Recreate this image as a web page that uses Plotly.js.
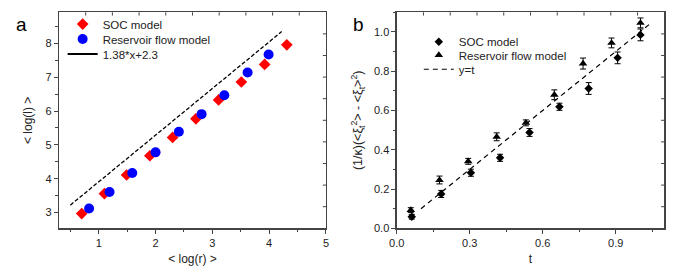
<!DOCTYPE html>
<html>
<head>
<meta charset="utf-8">
<script src="https://cdn.plot.ly/plotly-3.0.1.min.js"></script>
<style>
html,body{margin:0;padding:0;background:#fff;}
#chart{width:681px;height:277px;}
</style>
</head>
<body>
<div id="chart"></div>
<script>
// Panel a data
const socLogR = [0.70, 1.10, 1.49, 1.90, 2.30, 2.71, 3.11, 3.51, 3.92, 4.31];
const socLogL = [2.97, 3.56, 4.11, 4.68, 5.22, 5.77, 6.33, 6.86, 7.38, 7.96];
const resLogR = [0.83, 1.19, 1.59, 2.00, 2.41, 2.81, 3.21, 3.62, 3.99];
const resLogL = [3.12, 3.61, 4.17, 4.78, 5.39, 5.91, 6.47, 7.14, 7.67];
const fitX = [0.50, 4.22];
const fitY = [3.22, 8.35];
const fitName = '1.38*x+2.3';

// Panel b data
const socT = [0.062, 0.183, 0.305, 0.425, 0.546, 0.669, 0.789, 0.908, 1.002];
const socVar = [0.059, 0.175, 0.283, 0.359, 0.488, 0.619, 0.712, 0.868, 0.985];
const socErr = [0.012, 0.018, 0.018, 0.018, 0.020, 0.018, 0.030, 0.030, 0.030];
const resT = [0.058, 0.176, 0.294, 0.411, 0.531, 0.648, 0.766, 0.883, 1.002];
const resVar = [0.093, 0.246, 0.341, 0.466, 0.537, 0.680, 0.839, 0.944, 1.046];
const resErr = [0.012, 0.020, 0.015, 0.020, 0.015, 0.025, 0.028, 0.025, 0.025];
const lineT = [0.10, 1.04];

const FONT = 'Liberation Sans, Arial, sans-serif';
const axisColor = '#444';
const LEG_FONT = {family: FONT, size: 11.5, color: '#222'};

const traces = [
  // panel a
  {x: socLogR, y: socLogL, type: 'scatter', mode: 'markers', name: 'SOC model',
   marker: {symbol: 'diamond', size: 9, color: '#ff0000'}, xaxis: 'x', yaxis: 'y', legend: 'legend'},
  {x: resLogR, y: resLogL, type: 'scatter', mode: 'markers', name: 'Reservoir flow model',
   marker: {symbol: 'circle', size: 10, color: '#0000ff'}, xaxis: 'x', yaxis: 'y', legend: 'legend2'},
  {x: [null], y: [null], type: 'scatter', mode: 'lines', name: fitName,
   line: {color: '#000', width: 2}, xaxis: 'x', yaxis: 'y', legend: 'legend3'},
  {x: fitX, y: fitY, type: 'scatter', mode: 'lines', showlegend: false,
   line: {color: '#000', width: 1.3, dash: '4px,2px'}, xaxis: 'x', yaxis: 'y'},
  // panel b
  {x: socT, y: socVar, type: 'scatter', mode: 'markers', name: 'SOC model',
   marker: {symbol: 'diamond', size: 6.5, color: '#000'},
   error_y: {type: 'data', array: socErr, color: '#000', thickness: 1, width: 3},
   xaxis: 'x2', yaxis: 'y2', legend: 'legend4'},
  {x: resT, y: resVar, type: 'scatter', mode: 'markers', name: 'Reservoir flow model',
   marker: {symbol: 'triangle-up', size: 7.5, color: '#000'},
   error_y: {type: 'data', array: resErr, color: '#000', thickness: 1, width: 3},
   xaxis: 'x2', yaxis: 'y2', legend: 'legend5'},
  {x: lineT, y: lineT, type: 'scatter', mode: 'lines', name: 'y=t',
   line: {color: '#000', width: 1.2, dash: '5px,4px'}, xaxis: 'x2', yaxis: 'y2', legend: 'legend6'}
];

const baseAxis = {
  showgrid: false, zeroline: false, showline: true, linecolor: axisColor, linewidth: 1.2,
  mirror: true, ticks: 'outside', ticklen: 4, tickcolor: axisColor, tickwidth: 1,
  tickfont: {family: FONT, size: 11, color: '#222'}
};

function legendAt(x, y) {
  return {x: x, y: y, xanchor: 'left', yanchor: 'middle', bgcolor: 'rgba(0,0,0,0)',
          borderwidth: 0, font: LEG_FONT, itemwidth: 30};
}

// inside ticks on top and right frame edges (10 equal divisions of each frame side)
const shapes = [];
[['x', 'y'], ['x2', 'y2']].forEach(function (p) {
  for (let i = 1; i < 10; i++) {
    shapes.push({type: 'line', xref: p[0] + ' domain', yref: p[1] + ' domain',
      x0: i / 10, x1: i / 10, y0: 1, y1: 0.985, line: {color: axisColor, width: 1}});
    shapes.push({type: 'line', xref: p[0] + ' domain', yref: p[1] + ' domain',
      x0: 1, x1: 0.988, y0: i / 10, y1: i / 10, line: {color: axisColor, width: 1}});
  }
});

const layout = {
  width: 681, height: 277,
  margin: {l: 0, r: 0, t: 0, b: 0},
  paper_bgcolor: '#fff', plot_bgcolor: '#fff',
  font: {family: FONT, size: 11, color: '#222'},
  showlegend: true,
  xaxis: Object.assign({}, baseAxis, {
    domain: [0.0866, 0.4787], range: [0.3, 5], dtick: 1, tick0: 0,
    minor: {dtick: 0.5, ticks: 'outside', ticklen: 2.5, tickcolor: axisColor},
    anchor: 'y',
    title: {text: '&lt; log(r) &gt;', font: {family: FONT, size: 12, color: '#222'}, standoff: 6}
  }),
  yaxis: Object.assign({}, baseAxis, {
    domain: [0.1758, 0.9556], range: [2.535, 8.92], dtick: 1, tick0: 0,
    minor: {dtick: 0.5, ticks: 'outside', ticklen: 2.5, tickcolor: axisColor},
    anchor: 'x',
    title: {text: '&lt; log(l) &gt;', font: {family: FONT, size: 12, color: '#222'}, standoff: 10}
  }),
  xaxis2: Object.assign({}, baseAxis, {
    domain: [0.5825, 0.9755], range: [0, 1.1], dtick: 0.3, tick0: 0, tickformat: '.1f',
    minor: {dtick: 0.15, ticks: 'outside', ticklen: 2.5, tickcolor: axisColor},
    anchor: 'y2',
    title: {text: 't', font: {family: FONT, size: 12, color: '#222'}, standoff: 6}
  }),
  yaxis2: Object.assign({}, baseAxis, {
    domain: [0.1758, 0.9556], range: [0, 1.1], dtick: 0.2, tick0: 0, tickformat: '.1f',
    minor: {dtick: 0.1, ticks: 'outside', ticklen: 2.5, tickcolor: axisColor},
    anchor: 'x2',
    title: {text: '(1/κ)(&lt;ξ<sub>t</sub><sup>2</sup>&gt; - &lt;ξ<sub>t</sub>&gt;<sup>2</sup>)', font: {family: FONT, size: 12.5, color: '#222'}, standoff: 8}
  }),
  legend: legendAt(0.092, 0.913),
  legend2: legendAt(0.092, 0.859),
  legend3: legendAt(0.092, 0.805),
  legend4: legendAt(0.615, 0.849),
  legend5: legendAt(0.615, 0.801),
  legend6: legendAt(0.615, 0.750),
  shapes: shapes,
  annotations: [
    {text: 'a', x: 0.032, y: 0.91, xref: 'paper', yref: 'paper', showarrow: false,
     xanchor: 'center', yanchor: 'middle', font: {family: FONT, size: 19, color: '#000'}},
    {text: 'b', x: 0.526, y: 0.91, xref: 'paper', yref: 'paper', showarrow: false,
     xanchor: 'center', yanchor: 'middle', font: {family: FONT, size: 19, color: '#000'}}
  ]
};

Plotly.newPlot('chart', traces, layout, {staticPlot: true, displayModeBar: false});
</script>
</body>
</html>
